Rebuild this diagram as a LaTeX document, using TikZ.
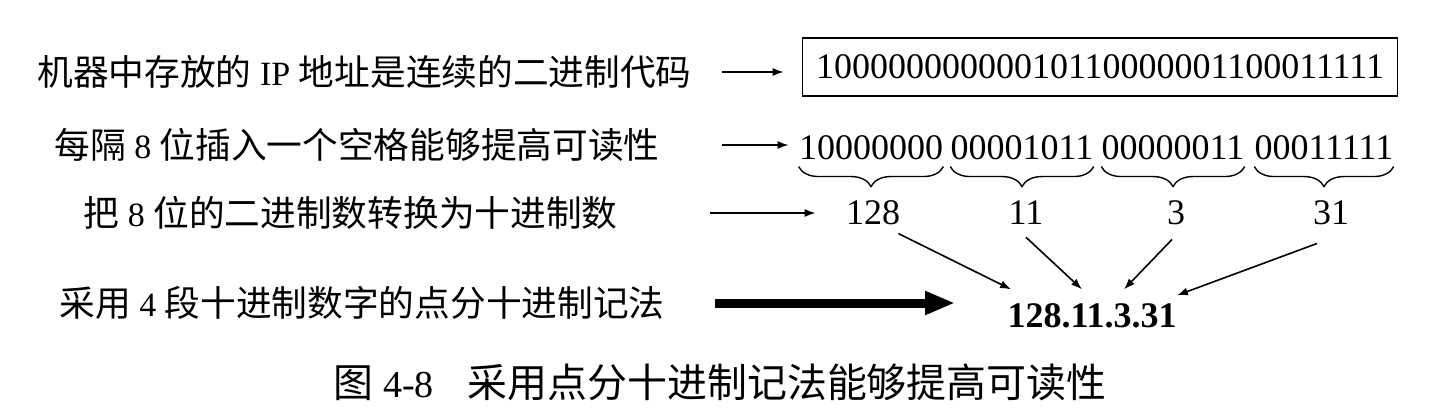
\documentclass[tikz,border=0pt]{standalone}
\usepackage{fontspec}
\setmainfont{Liberation Serif}
\newfontfamily\cjk[Scale=1.05]{Noto Sans CJK SC}
\usetikzlibrary{decorations.pathreplacing,arrows.meta}
\newcommand\zh[1]{{\cjk #1}}
\begin{document}
\begin{tikzpicture}[x=0.5pt,y=-0.5pt,
  every node/.style={inner sep=0pt, font=\fontsize{18}{21}\selectfont},
  lbl/.style={anchor=east, font=\fontsize{17}{20}\selectfont},
  arr/.style={-{Latex[length=5.5pt,width=4pt]}, line width=0.8pt},
  bigarr/.style={-{Triangle[length=15pt,width=11pt]}, line width=4.5pt},
  brc/.style={decorate, decoration={brace, mirror, amplitude=10pt}, line width=0.7pt}]
\useasboundingbox (0,0) rectangle (1441,412);
% left labels
\node[lbl] (L1) at (692,72) {\zh{机器中存放的} IP \zh{地址是连续的二进制代码}};
\node[lbl] (L2) at (660,145) {\zh{每隔} 8 \zh{位插入一个空格能够提高可读性}};
\node[lbl] (L3) at (618,213) {\zh{把} 8 \zh{位的二进制数转换为十进制数}};
\node[lbl] (L4) at (665,303) {\zh{采用} 4 \zh{段十进制数字的点分十进制记法}};
\node[font=\fontsize{19}{22}\selectfont] (cap) at (720,382) {\zh{图} 4-8\hspace{0.9em}\zh{采用点分十进制记法能够提高可读性}};
% box
\node[draw, line width=0.8pt, minimum width=297.5pt, minimum height=29pt] (box) at (1100,67) {10000000000010110000001100011111};
% groups
\node (g1) at (871,148) {10000000};
\node (g2) at (1022,148) {00001011};
\node (g3) at (1173,148) {00000011};
\node (g4) at (1324,148) {00011111};
% decimals
\node (n1) at (873,213) {128};
\node (n2) at (1026,213) {11};
\node (n3) at (1176,213) {3};
\node (n4) at (1331,213) {31};
\node[font=\fontsize{18}{21}\selectfont\bfseries] (ip) at (1092,316) {128.11.3.31};
% braces
\foreach \g in {g1,g2,g3,g4}
  \draw[brc] ([yshift=-3pt]\g.south west) -- ([yshift=-3pt]\g.south east);
% arrows
\draw[arr, shorten <=15pt, shorten >=9pt] (L1.east) -- (box.west |- L1.east);
\draw[arr, shorten <=31pt, shorten >=5pt] (L2.east) -- (g1.west |- L2.east);
\draw[arr, shorten <=46pt, shorten >=15pt] (L3.east) -- (n1.west);
\draw[bigarr, shorten <=25pt, shorten >=26pt] (L4.east) -- (ip.west |- L4.east);
\draw[arr] ([shift={(-1pt,-4pt)}]n1.south east) -- ([shift={(2pt,7pt)}]ip.north west);
\draw[arr] ([shift={(0pt,-6pt)}]n2.south) -- ([shift={(-5pt,7pt)}]ip.north);
\draw[arr] ([shift={(-2pt,-7pt)}]n3.south) -- ([shift={(16pt,7pt)}]ip.north);
\draw[arr] ([shift={(-7pt,-9pt)}]n4.south) -- ([shift={(0pt,4pt)}]ip.north east);
\end{tikzpicture}
\end{document}
